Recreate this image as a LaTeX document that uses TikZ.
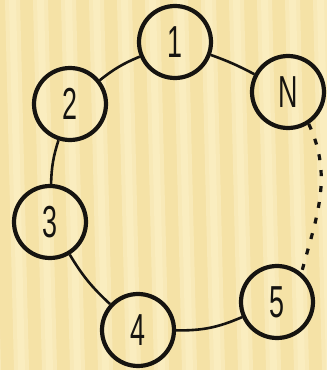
\documentclass[tikz,border=0pt]{standalone}
\usepackage{fontspec}
\newfontfamily\numfont[FakeStretch=0.6]{Liberation Sans}
\usepackage{tikz}
\definecolor{paper}{RGB}{245,226,166}
\definecolor{paperlight}{RGB}{253,243,205}
\definecolor{ink}{RGB}{22,20,16}

\begin{document}
\begin{tikzpicture}[
  x=1bp,y=1bp,
  font=\numfont\fontsize{45}{45}\selectfont,
  peer/.style={circle,draw=ink,line width=4.2bp,minimum size=72bp,inner sep=0pt,text=ink},
  link/.style={draw=ink,line width=2.6bp},
  gap/.style={draw=ink,line width=3.2bp,dash pattern=on 6bp off 10bp}
]
% background
\useasboundingbox (0,0) rectangle (327,370);
\fill[paper] (0,0) rectangle (327,370);
\foreach \s in {-14,14,...,340}
  \fill[paperlight,opacity=.45] (\s,0) -- (\s+15,0) -- (\s+6,370) -- (\s-9,370) -- cycle;
\foreach \s in {-10,18,...,340}
  \fill[paperlight,opacity=.4] (\s,0) -- (\s+7,0) -- (\s-2,370) -- (\s-9,370) -- cycle;
% ring
\node[peer] (one) at (175,328) {1};
\node[peer] (nth) at (288,278) {N};
\node[peer] (two) at (70,266) {2};
\node[peer] (three) at (50,148) {3};
\node[peer] (four) at (138,40) {4};
\node[peer] (five) at (277,68) {5};
\draw[link] (two) to[bend left=8] (one);
\draw[link] (one) to[bend left=4] (nth);
\draw[gap] (nth.-57) to[out=-65,in=75] (five.50);
\draw[link] (five) to[bend left=12] (four);
\draw[link] (four) to[bend left=8] (three);
\draw[link] (three) to[bend left=8] (two);
\end{tikzpicture}
\end{document}
